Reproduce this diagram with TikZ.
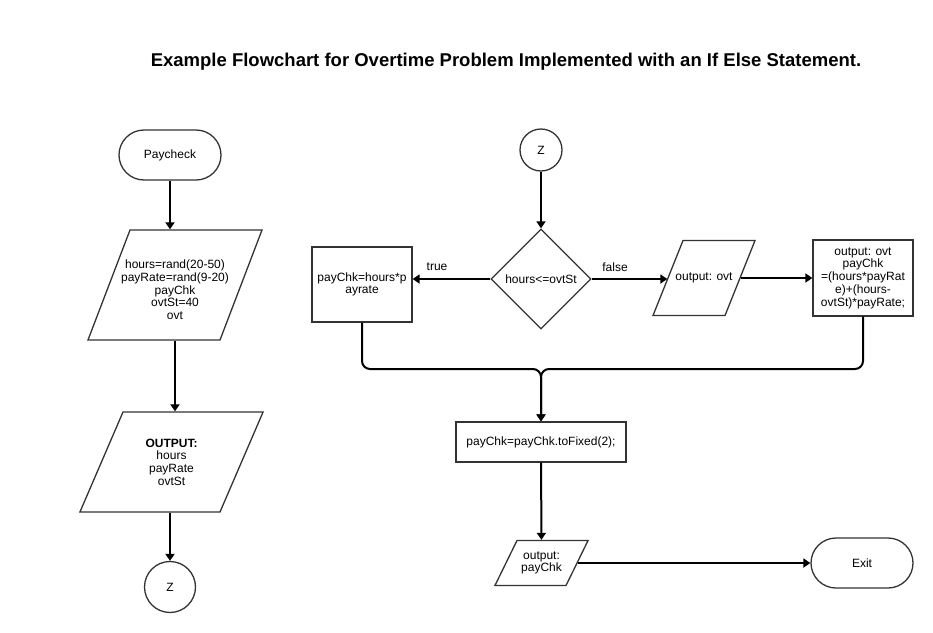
\documentclass[tikz,border=0pt]{standalone}
\usepackage{fontspec}
\setmainfont{Liberation Sans}
\usetikzlibrary{shapes.geometric,arrows.meta}

\tikzset{
  box/.style={draw=black!80, line width=1.3pt, align=center, font=\fontsize{12}{12.7}\selectfont, inner sep=1pt},
  term/.style={box, minimum width=102pt, minimum height=50pt, rounded corners=25pt},
  proc/.style={box, rectangle},
  io/.style n args={3}{box, trapezium, trapezium left angle=#1, trapezium right angle={180-#1}, inner xsep=#2, inner ysep=#3},
  conn/.style={box, circle},
  dec/.style={box, diamond, inner sep=0pt, minimum width=100pt, minimum height=100pt},
  flow/.style={line width=2pt, -{Triangle[width=9pt,length=7pt]}},
  lbl/.style={font=\fontsize{12}{12.7}\selectfont, align=center}
}

\begin{document}
\begin{tikzpicture}[x=1pt,y=-1pt]
        \useasboundingbox (0,0) rectangle (933,632);

        % Titolo
        \node[font=\bfseries\fontsize{18.5}{20}\selectfont](title) at (506,62) {Example Flowchart for Overtime Problem Implemented with an If Else Statement.};

        % Colonna di sinistra (input e output)
        \node[term](start) at (170,155) {Paycheck};
        \node[io={69.1}{45pt}{55pt}, label={[lbl, yshift=-5pt]center:{hours=rand(20-50)\\payRate=rand(9-20)\\payChk\\ovtSt=40\\ovt}}](inp) at (175,285) {};
        \node[io={66.7}{48.5pt}{50pt}, label={[lbl]center:{\textbf{OUTPUT:}\\hours\\payRate\\ovtSt}}](outp) at (171.5,462) {};
        \node[conn, minimum size=51pt](zA) at (170,587) {Z};

        % Colonna di destra (decisione)
        \node[conn, minimum size=42pt](zB) at (541,150) {Z};
        \node[dec](test) at (541,279) {hours<=ovtSt};
        \node[lbl](lTrue) at (437,267) {true};
        \node[lbl](lFalse) at (615,267) {false};

        % Rami true / false
        \node[proc, minimum width=100pt, minimum height=75pt](payReg) at (362,284.5) {payChk=hours*p\\ayrate};
        \node[io={68.2}{21pt}{37.5pt}, label={[lbl]center:{output: ovt}}](outOvt) at (704,278) {};
        \node[proc, minimum width=100pt, minimum height=76pt](payOvt) at (863,278) {output: ovt\\payChk\\=(hours*payRat\\e)+(hours-\\ovtSt)*payRate;};

        % Parte finale
        \coordinate (m) at (541,369);
        \node[proc, minimum width=170pt, minimum height=40pt](fixPay) at (541,442) {payChk=payChk.toFixed(2);};
        \node[io={63.9}{24.5pt}{22.5pt}, label={[lbl]center:{output:\\payChk}}](outPay) at (541.5,563) {};
        \node[term](stop) at (862,563) {Exit};

        % Collegamenti a sinistra
        \draw[flow] (start) -- (start |- inp.north);
        \draw[flow] (inp.south) -- (inp.south |- outp.north);
        \draw[flow] (zA |- outp.south) -- (zA);

        % Collegamenti a destra
        \draw[flow] (zB) -- (test);
        \draw[flow] (test.west) -- (test.west -| payReg.east);
        \draw[flow] (test.east) -- (test.east -| outOvt.west);
        \draw[flow] (outOvt) -- (payOvt);
        \draw[flow, rounded corners=8pt] (payReg) |- (m) -- (fixPay);
        \draw[flow, rounded corners=8pt] (payOvt) |- (m) -- (fixPay);
        \draw[flow] (fixPay) -- (outPay);
        \draw[flow] (outPay) -- (stop);
    \end{tikzpicture}
\end{document}
